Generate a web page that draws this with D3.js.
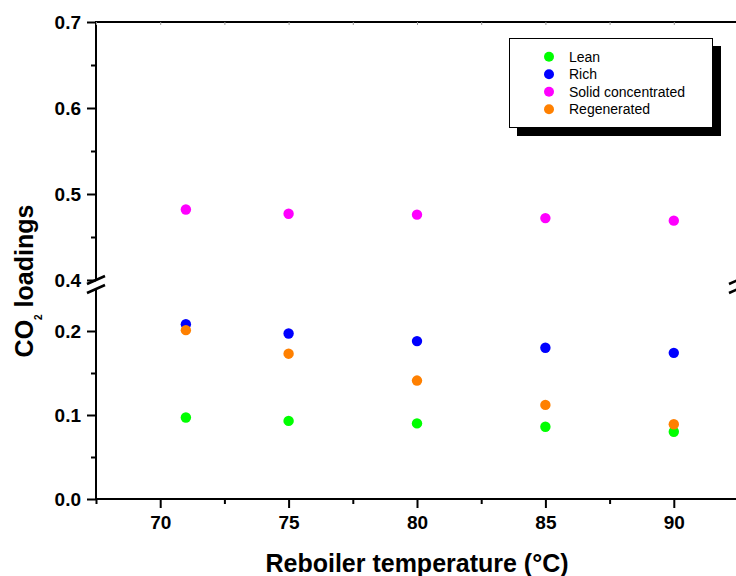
<!DOCTYPE html>
<html>
<head>
<meta charset="utf-8">
<script src="https://cdn.jsdelivr.net/npm/d3@7"></script>
<style>
  html, body { margin: 0; padding: 0; background: #fff; }
  svg { display: block; font-family: "Liberation Sans", Arial, sans-serif; }
</style>
</head>
<body>
<svg id="chart" width="736" height="576"></svg>
<script>
// Reboiler temperature (°C)
const temperatures = [71, 75, 80, 85, 90];

// CO2 loadings for each stream
const lean         = [0.097, 0.093, 0.090, 0.086, 0.080];
const rich         = [0.208, 0.197, 0.188, 0.180, 0.174];
const solidConc    = [0.482, 0.477, 0.476, 0.472, 0.469];
const regenerated  = [0.201, 0.173, 0.141, 0.112, 0.089];

const seriesNames  = ["Lean", "Rich", "Solid concentrated", "Regenerated"];
const seriesColors = ["#00ff00", "#0000ff", "#ff00ff", "#ff8000"];

const xTicks       = [70, 75, 80, 85, 90];
const xMinorTicks  = [67.5, 72.5, 77.5, 82.5, 87.5, 92.5];
const yUpperTicks  = [0.4, 0.5, 0.6, 0.7];
const yUpperMinor  = [0.45, 0.55, 0.65];
const yLowerTicks  = [0.0, 0.1, 0.2];
const yLowerMinor  = [0.05, 0.15];

const series = [lean, rich, solidConc, regenerated].map((vals, i) => ({
  name: seriesNames[i],
  color: seriesColors[i],
  points: temperatures.map((t, j) => ({ t, v: vals[j] }))
}));

const svg = d3.select("#chart");

// Plot frame geometry (right edge runs just past the window)
const frameL = 96, frameR = 738, frameT = 22, frameB = 499;
const upperBottom = 280, lowerTop = 289;

const x = d3.scaleLinear().domain([67.5, 92.5]).range([frameL, frameR]);
const yUpper = d3.scaleLinear().domain([0.4, 0.7]).range([upperBottom, frameT]);
const yLower = d3.scaleLinear().domain([0.0, 0.25]).range([frameB, lowerTop]);
const yOf = v => v >= 0.3 ? yUpper(v) : yLower(v);

const fmt = d3.format(".1f");
const tickFont = g => g.selectAll("text")
  .attr("font-size", 19).attr("font-weight", "bold").attr("fill", "#000")
  .attr("font-family", "'Liberation Sans', Arial, sans-serif");
const strokeAxis = g => {
  g.selectAll("line").attr("stroke", "#000").attr("stroke-width", 2);
  g.select(".domain").remove();
};

// Axis lines
const axisLines = svg.append("g").attr("stroke", "#000").attr("stroke-width", 2).attr("fill", "none");
axisLines.append("line").attr("x1", frameL).attr("x2", frameL).attr("y1", frameT - 1).attr("y2", upperBottom);
axisLines.append("line").attr("x1", frameL).attr("x2", frameL).attr("y1", lowerTop).attr("y2", frameB + 1);
axisLines.append("line").attr("x1", frameR).attr("x2", frameR).attr("y1", frameT - 1).attr("y2", upperBottom);
axisLines.append("line").attr("x1", frameR).attr("x2", frameR).attr("y1", lowerTop).attr("y2", frameB + 1);
axisLines.append("line").attr("x1", frameL - 1).attr("x2", frameR + 1).attr("y1", frameB).attr("y2", frameB);
axisLines.append("line").attr("x1", frameL - 1).attr("x2", frameR + 1).attr("y1", frameT).attr("y2", frameT);

// Break marks on both vertical axes
const breaks = svg.append("g").attr("stroke", "#000").attr("stroke-width", 2.5);
[frameL, frameR].forEach(ax => {
  [upperBottom, lowerTop].forEach(yy => {
    breaks.append("line")
      .attr("x1", ax - 9).attr("y1", yy + 4)
      .attr("x2", ax + 9).attr("y2", yy - 4);
  });
});

// Left axis: upper segment
svg.append("g").attr("transform", `translate(${frameL},0)`)
  .call(d3.axisLeft(yUpper).tickValues(yUpperTicks).tickFormat(fmt).tickSize(9).tickPadding(6))
  .call(strokeAxis).call(tickFont);
svg.append("g").attr("transform", `translate(${frameL},0)`)
  .call(d3.axisLeft(yUpper).tickValues(yUpperMinor).tickFormat("").tickSize(5))
  .call(strokeAxis);

// Left axis: lower segment
svg.append("g").attr("transform", `translate(${frameL},0)`)
  .call(d3.axisLeft(yLower).tickValues(yLowerTicks).tickFormat(fmt).tickSize(9).tickPadding(6))
  .call(strokeAxis).call(tickFont);
svg.append("g").attr("transform", `translate(${frameL},0)`)
  .call(d3.axisLeft(yLower).tickValues(yLowerMinor).tickFormat("").tickSize(5))
  .call(strokeAxis);

// Bottom axis
svg.append("g").attr("transform", `translate(0,${frameB})`)
  .call(d3.axisBottom(x).tickValues(xTicks).tickFormat(d3.format("d")).tickSize(9).tickPadding(8))
  .call(strokeAxis).call(tickFont);
svg.append("g").attr("transform", `translate(0,${frameB})`)
  .call(d3.axisBottom(x).tickValues(xMinorTicks).tickFormat("").tickSize(5))
  .call(strokeAxis);

// Faint inner ticks on the top frame line
svg.append("g").attr("transform", `translate(0,${frameT})`)
  .call(d3.axisBottom(x).tickValues(xTicks.concat(xMinorTicks)).tickFormat("").tickSize(3))
  .call(g => { g.select(".domain").remove(); g.selectAll("line").attr("stroke", "#999").attr("stroke-width", 1); });

// Data points
series.forEach(s => {
  svg.append("g").selectAll("circle")
    .data(s.points)
    .join("circle")
    .attr("cx", d => x(d.t))
    .attr("cy", d => yOf(d.v))
    .attr("r", 5.2)
    .attr("fill", s.color);
});

// Axis titles
svg.append("text")
  .attr("x", 417).attr("y", 572)
  .attr("text-anchor", "middle")
  .attr("font-size", 25).attr("font-weight", "bold")
  .text("Reboiler temperature (°C)");

const yTitle = svg.append("text")
  .attr("transform", "translate(33,281) rotate(-90)")
  .attr("text-anchor", "middle")
  .attr("font-size", 25).attr("font-weight", "bold");
yTitle.append("tspan").text("CO");
yTitle.append("tspan").attr("font-size", 10).attr("dy", 9).text("2");
yTitle.append("tspan").attr("dy", -9).text(" loadings");

// Legend with drop shadow
const lg = svg.append("g");
lg.append("rect").attr("x", 517).attr("y", 46).attr("width", 204).attr("height", 90).attr("fill", "#000");
lg.append("rect").attr("x", 509.5).attr("y", 38.5).attr("width", 203).attr("height", 89)
  .attr("fill", "#fff").attr("stroke", "#000").attr("stroke-width", 1);
const rowY = d3.scalePoint().domain(seriesNames).range([56.7, 109.3]);
const rows = lg.selectAll("g.row").data(series).join("g").attr("class", "row")
  .attr("transform", d => `translate(0,${rowY(d.name)})`);
rows.append("circle").attr("cx", 549).attr("cy", 0).attr("r", 5).attr("fill", d => d.color);
rows.append("text").attr("x", 569).attr("y", 5).attr("font-size", 14).attr("fill", "#000").text(d => d.name);
</script>
</body>
</html>
